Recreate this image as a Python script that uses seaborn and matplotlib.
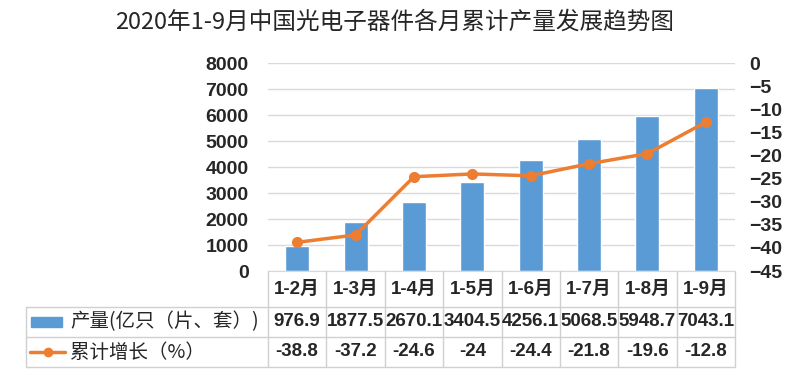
import matplotlib
matplotlib.use("Agg")
import matplotlib.pyplot as plt
import matplotlib.transforms as mtransforms
from matplotlib.lines import Line2D
from matplotlib.patches import Rectangle
import seaborn as sns
import pandas as pd

# data
months = ["1-2月", "1-3月", "1-4月", "1-5月", "1-6月", "1-7月", "1-8月", "1-9月"]
output = [976.9, 1877.5, 2670.1, 3404.5, 4256.1, 5068.5, 5948.7, 7043.1]
growth = [-38.8, -37.2, -24.6, -24, -24.4, -21.8, -19.6, -12.8]
bar_label = "产量(亿只（片、套）)"
line_label = "累计增长（%）"
title = "2020年1-9月中国光电子器件各月累计产量发展趋势图"

blue = "#5B9BD5"
orange = "#ED7D31"
grid_c = "#D9D9D9"

sns.set_style("white")
num_font = ["Liberation Sans", "Noto Sans CJK SC", "DejaVu Sans"]
cjk_font = ["Noto Sans CJK SC", "DejaVu Sans"]
plt.rcParams["font.family"] = num_font
plt.rcParams["font.weight"] = "bold"

df = pd.DataFrame({"month": months, "output": output, "growth": growth})
df["pos"] = range(len(df))

W, H = 787, 380
fig = plt.figure(figsize=(W / 100, H / 100), dpi=100)
left, right, top, bottom = 268, 735, 63, 271
ax = fig.add_axes([left / W, 1 - bottom / H, (right - left) / W, (bottom - top) / H])

sns.barplot(data=df, x="pos", y="output", color=blue, width=0.41,
            saturation=1, ax=ax, native_scale=True)
ax.set_xlim(-0.5, len(months) - 0.5)
ax.set_ylim(0, 8000)
ax.set_yticks(range(0, 8001, 1000))
ax.yaxis.grid(True, color=grid_c, linewidth=1)
ax.set_axisbelow(True)
ax.set_xticks([])
ax.set_xlabel("")
ax.set_ylabel("")
for s in ["left", "right", "top"]:
    ax.spines[s].set_visible(False)
ax.spines["bottom"].set_color(grid_c)
ax.tick_params(axis="y", length=0, pad=14, labelsize=14)

ax2 = ax.twinx()
sns.lineplot(data=df, x="pos", y="growth", color=orange, linewidth=2.5,
             marker="o", markersize=8, markeredgewidth=0, ax=ax2)
ax2.set_ylim(-45, 0)
ax2.set_yticks(range(-45, 1, 5))
ax2.set_xlim(-0.5, len(months) - 0.5)
ax2.set_ylabel("")
ax2.set_xlabel("")
for s in ["left", "right", "top", "bottom"]:
    ax2.spines[s].set_visible(False)
ax2.tick_params(axis="y", length=0, pad=10, labelsize=14)

fig.text(395 / W, 1 - 22 / H, title, ha="center", va="center", fontsize=17,
         fontweight="normal", family=cjk_font)

# data table under the plot
def fy(py):
    return 1 - py / H

def fx(px):
    return px / W

blend = mtransforms.blended_transform_factory(ax.transData, fig.transFigure)
tbl_left = 26
rows = [271, 307, 337, 367]
edge = "#D0D0D0"
for y in rows[1:]:
    fig.add_artist(Line2D([fx(tbl_left), fx(right)], [fy(y), fy(y)], color=edge, lw=1))
fig.add_artist(Line2D([fx(tbl_left), fx(tbl_left)], [fy(rows[1]), fy(rows[3])], color=edge, lw=1))
for i in range(len(months) + 1):
    fig.add_artist(Line2D([i - 0.5, i - 0.5], [fy(rows[0]), fy(rows[3])], color=edge,
                          lw=1, transform=blend))

for i, m in enumerate(months):
    fig.text(i, fy(289), m, transform=blend, ha="center", va="center", fontsize=13.5,
             fontweight="bold", family=num_font)
    fig.text(i, fy(322), f"{output[i]:g}", transform=blend, ha="center", va="center",
             fontsize=13.5, fontweight="bold", family=num_font)
    fig.text(i, fy(352), f"{growth[i]:g}", transform=blend, ha="center", va="center",
             fontsize=13.5, fontweight="bold", family=num_font)

fig.add_artist(Rectangle((fx(31), fy(327)), fx(62) - fx(31), fy(317) - fy(327),
                         color=blue, transform=fig.transFigure))
fig.add_artist(Line2D([fx(30), fx(65)], [fy(352), fy(352)], color=orange, lw=2.5))
fig.add_artist(Line2D([fx(47.5)], [fy(352)], color=orange, marker="o", markersize=7,
                      markeredgewidth=0))
fig.text(fx(70), fy(322), bar_label, ha="left", va="center", fontsize=14,
         fontweight="normal", family=cjk_font)
fig.text(fx(70), fy(352), line_label, ha="left", va="center", fontsize=14,
         fontweight="normal", family=cjk_font)

fig.savefig("out.png", dpi=100)
